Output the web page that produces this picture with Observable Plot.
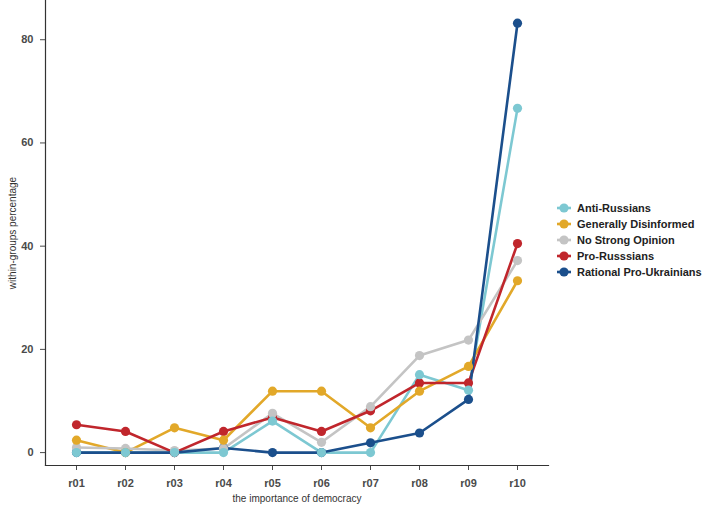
<!DOCTYPE html>
<html>
<head>
<meta charset="utf-8">
<script src="https://cdn.jsdelivr.net/npm/d3@7"></script>
<script src="https://cdn.jsdelivr.net/npm/@observablehq/plot@0.6"></script>
<style>
  body { margin: 0; background: #fff; font-family: "Liberation Sans", Arial, sans-serif; }
  #wrap { position: relative; width: 709px; height: 518px; overflow: hidden; }
  #legend { position: absolute; left: 556px; top: 200px; font-size: 11px; font-weight: bold; color: #222; white-space: nowrap; }
  #legend .row { display: flex; align-items: center; height: 16px; white-space: nowrap; }
  #legend svg { margin-right: 5px; flex: none; }
</style>
</head>
<body>
<div id="wrap"><div id="chart"></div><div id="legend"></div></div>
<script>
const categories = ["r01","r02","r03","r04","r05","r06","r07","r08","r09","r10"];
const groups = ["Anti-Russians","Generally Disinformed","No Strong Opinion","Pro-Russsians","Rational Pro-Ukrainians"];
const colors = ["#7dc8d2","#e2a829","#c4c4c4","#c0262c","#1b4f8c"];
const antiRussians   = [0, 0, 0, 0, 6.1, 0, 0, 15.1, 12.1, 66.7];
const disinformed    = [2.4, 0, 4.8, 2.4, 11.9, 11.9, 4.8, 11.9, 16.7, 33.3];
const noOpinion      = [1.0, 0.8, 0.4, 0.8, 7.6, 2.0, 8.9, 18.8, 21.8, 37.2];
const proRussians    = [5.4, 4.1, 0, 4.1, 6.8, 4.1, 8.1, 13.5, 13.5, 40.5];
const proUkrainians  = [0, 0, 0, 0.9, 0, 0, 1.9, 3.8, 10.3, 83.2];
const yTicks = [0, 20, 40, 60, 80];

const series = [antiRussians, disinformed, noOpinion, proRussians, proUkrainians];
const data = [];
series.forEach((vals, gi) => vals.forEach((v, i) => data.push({group: groups[gi], cat: categories[i], value: v})));
const dotData = data.slice().reverse();

const chart = Plot.plot({
  width: 709,
  height: 518,
  marginLeft: 45,
  marginRight: 161,
  marginTop: 0,
  marginBottom: 53,
  style: {fontFamily: "Liberation Sans, Arial, sans-serif", fontSize: "11px", color: "#4a4a4a"},
  x: {type: "point", domain: categories, padding: 0.61},
  y: {domain: [-2.5, 87.6]},
  color: {domain: groups, range: colors},
  marks: [
    Plot.axisX({tickSize: 5, tickPadding: 9, fontSize: 11, fontWeight: 600, label: "the importance of democracy", labelAnchor: "center", labelOffset: 36, labelArrow: "none"}),
    Plot.axisY({ticks: yTicks, tickSize: 5, tickPadding: 7, fontSize: 11, fontWeight: 600, label: "within-groups percentage", labelAnchor: "center", labelOffset: 37, labelArrow: "none"}),
    Plot.frame({anchor: "left", stroke: "#333", strokeWidth: 1.2}),
    Plot.frame({anchor: "bottom", stroke: "#333", strokeWidth: 1.2}),
    Plot.line(data, {x: "cat", y: "value", z: "group", stroke: "group", strokeWidth: 2.6}),
    Plot.dot(dotData, {x: "cat", y: "value", fill: "group", r: 4.6})
  ]
});
document.getElementById("chart").appendChild(chart);
chart.querySelectorAll("[aria-label='x-axis label'] text, [aria-label='y-axis label'] text").forEach(t => { t.setAttribute("font-size", "10"); t.setAttribute("font-weight", "normal"); t.setAttribute("fill", "#333"); });

const legend = d3.select("#legend");
groups.forEach((g, i) => {
  const row = legend.append("div").attr("class", "row");
  const s = row.append("svg").attr("width", 16).attr("height", 14);
  s.append("line").attr("x1", 1).attr("x2", 15).attr("y1", 7).attr("y2", 7).attr("stroke", colors[i]).attr("stroke-width", 2.6);
  s.append("circle").attr("cx", 8).attr("cy", 7).attr("r", 4.6).attr("fill", colors[i]);
  row.append("span").text(g);
});
</script>
</body>
</html>
